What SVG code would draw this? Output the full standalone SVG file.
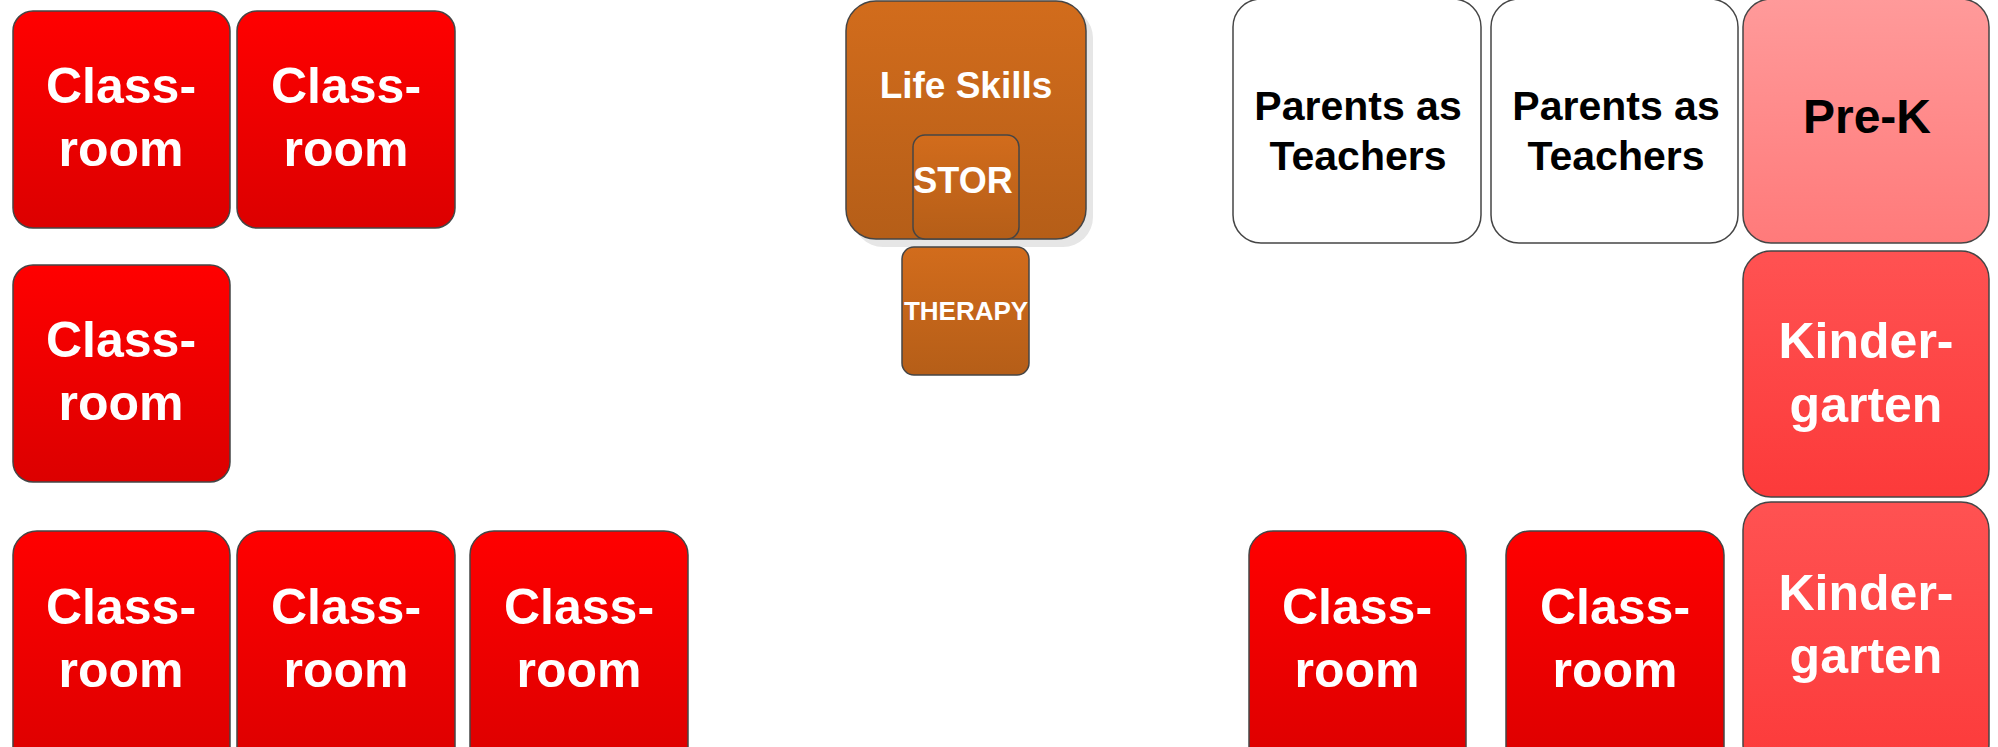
<svg xmlns="http://www.w3.org/2000/svg" width="1998" height="747" viewBox="0 0 1998 747">
<defs>
<linearGradient id="gRed" x1="0" y1="0" x2="0" y2="1"><stop offset="0" stop-color="#ff0000"/><stop offset="1" stop-color="#dc0000"/></linearGradient>
<linearGradient id="gKin" x1="0" y1="0" x2="0" y2="1"><stop offset="0" stop-color="#ff5252"/><stop offset="1" stop-color="#fc3a3a"/></linearGradient>
<linearGradient id="gPre" x1="0" y1="0" x2="0" y2="1"><stop offset="0" stop-color="#ff9a9a"/><stop offset="1" stop-color="#ff7a7a"/></linearGradient>
<linearGradient id="gOr" x1="0" y1="0" x2="0" y2="1"><stop offset="0" stop-color="#d26c1c"/><stop offset="1" stop-color="#b55e18"/></linearGradient>
<style>
rect.n{stroke:#454545;stroke-width:1.5}
.red{fill:url(#gRed)}
.kin{fill:url(#gKin)}
.pre{fill:url(#gPre)}
.or{fill:url(#gOr)}
.wh{fill:#ffffff}
text{font-family:"Liberation Sans",Arial,sans-serif;font-weight:bold;text-anchor:middle}
.tw{fill:#ffffff;font-size:50px}
.tb{fill:#000000;font-size:41px}
</style>
</defs>
<g id="connectors"/>
<g id="classroom1"><rect class="n red" x="13" y="11" width="217" height="217" rx="20"/><text class="tw" x="121" y="103">Class-</text><text class="tw" x="121" y="166">room</text></g>
<g id="classroom2"><rect class="n red" x="237" y="11" width="218" height="217" rx="20"/><text class="tw" x="346" y="103">Class-</text><text class="tw" x="346" y="166">room</text></g>
<g id="classroom3"><rect class="n red" x="13" y="265" width="217" height="217" rx="20"/><text class="tw" x="121" y="357">Class-</text><text class="tw" x="121" y="420">room</text></g>
<g id="classroom4"><rect class="n red" x="13" y="531" width="217" height="240" rx="24"/><text class="tw" x="121" y="624">Class-</text><text class="tw" x="121" y="687">room</text></g>
<g id="classroom5"><rect class="n red" x="237" y="531" width="218" height="240" rx="24"/><text class="tw" x="346" y="624">Class-</text><text class="tw" x="346" y="687">room</text></g>
<g id="classroom6"><rect class="n red" x="470" y="531" width="218" height="240" rx="24"/><text class="tw" x="579" y="624">Class-</text><text class="tw" x="579" y="687">room</text></g>
<g id="lifeskills"><rect x="853" y="8" width="240" height="239" rx="30" fill="#e6e6e6"/><rect class="n or" x="846" y="1" width="240" height="238" rx="30"/><text x="966" y="98" fill="#ffffff" font-size="37">Life Skills</text></g>
<g id="stor"><rect class="n or" x="913" y="135" width="106" height="104" rx="12"/><text x="963" y="193" fill="#ffffff" font-size="36">STOR</text></g>
<g id="therapy"><rect class="n or" x="902" y="247" width="127" height="128" rx="12"/><text x="966" y="320" fill="#ffffff" font-size="26">THERAPY</text></g>
<g id="pat1"><rect class="n wh" x="1233" y="-1" width="248" height="244" rx="28"/><text class="tb" x="1358" y="120">Parents as</text><text class="tb" x="1358" y="170">Teachers</text></g>
<g id="pat2"><rect class="n wh" x="1491" y="-1" width="247" height="244" rx="28"/><text class="tb" x="1616" y="120">Parents as</text><text class="tb" x="1616" y="170">Teachers</text></g>
<g id="prek"><rect class="n pre" x="1743" y="-1" width="246" height="244" rx="28"/><text x="1867" y="133" fill="#000000" font-size="48">Pre-K</text></g>
<g id="kinder1"><rect class="n kin" x="1743" y="251" width="246" height="246" rx="28"/><text class="tw" x="1866" y="358">Kinder-</text><text class="tw" x="1866" y="422">garten</text></g>
<g id="kinder2"><rect class="n kin" x="1743" y="502" width="246" height="270" rx="28"/><text class="tw" x="1866" y="610">Kinder-</text><text class="tw" x="1866" y="673">garten</text></g>
<g id="classroom7"><rect class="n red" x="1249" y="531" width="217" height="240" rx="24"/><text class="tw" x="1357" y="624">Class-</text><text class="tw" x="1357" y="687">room</text></g>
<g id="classroom8"><rect class="n red" x="1506" y="531" width="218" height="240" rx="24"/><text class="tw" x="1615" y="624">Class-</text><text class="tw" x="1615" y="687">room</text></g>
</svg>
